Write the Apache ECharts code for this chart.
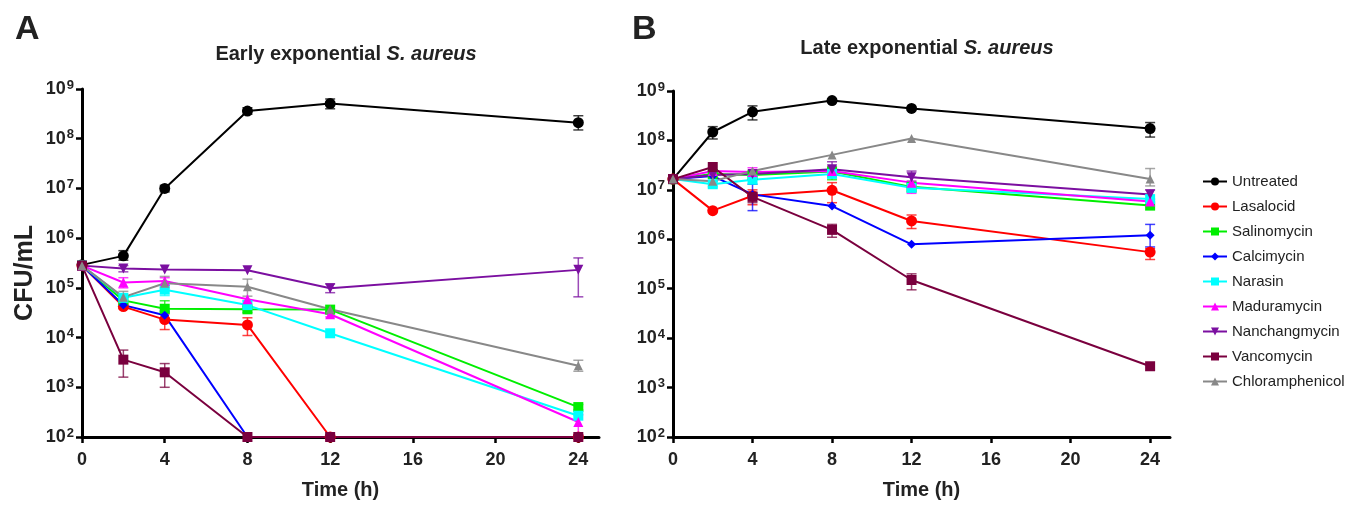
<!DOCTYPE html>
<html lang="en">
<head>
    <meta charset="UTF-8">
    <title>Time-kill S. aureus</title>
    <style>
        html, body { margin: 0; padding: 0; background: #fff; }
        #chart { width: 1349px; height: 505px; }
    </style>
</head>
<body>
    <div id="chart"></div>
    <script src="https://cdn.jsdelivr.net/npm/echarts@6/dist/echarts.min.js"></script>
    <script>
        // sampling times (h)
        let hours = [0, 2, 4, 8, 12, 24];
        let xTicks = [0, 4, 8, 12, 16, 20, 24];
        let treatments = ['Untreated', 'Lasalocid', 'Salinomycin', 'Calcimycin', 'Narasin',
            'Maduramycin', 'Nanchangmycin', 'Vancomycin', 'Chloramphenicol'];

        // CFU/mL, one row per treatment (same order as treatments)
        let earlyValues = [
            [2.9e5, 4.4e5, 1.0e7, 3.6e8, 5.1e8, 2.1e8],
            [2.8e5, 4.2e4, 2.3e4, 1.8e4, 100, 100],
            [2.8e5, 5.6e4, 3.8e4, 3.7e4, 3.65e4, 400],
            [2.8e5, 4.5e4, 2.8e4, 100, 100, 100],
            [2.8e5, 6.3e4, 9.2e4, 4.5e4, 1.22e4, 268],
            [2.8e5, 1.28e5, 1.38e5, 5.9e4, 2.95e4, 200],
            [2.8e5, 2.45e5, 2.35e5, 2.25e5, 9.8e4, 2.3e5],
            [2.8e5, 3.6e3, 2.0e3, 100, 100, 100],
            [2.8e5, 6.5e4, 1.24e5, 1.05e5, 3.7e4, 2.7e3]
        ];
        let lateValues = [
            [1.65e7, 1.48e8, 3.8e8, 6.4e8, 4.45e8, 1.74e8],
            [1.65e7, 3.8e6, 7.6e6, 9.8e6, 2.35e6, 5.5e5],
            [1.65e7, 2.1e7, 2.0e7, 2.35e7, 1.15e7, 4.8e6],
            [1.65e7, 1.9e7, 8.1e6, 4.7e6, 7.9e5, 1.2e6],
            [1.65e7, 1.3e7, 1.6e7, 2.1e7, 1.1e7, 6.5e6],
            [1.65e7, 2.4e7, 2.3e7, 2.4e7, 1.4e7, 5.8e6],
            [1.65e7, 2.0e7, 2.1e7, 2.6e7, 1.8e7, 8.1e6],
            [1.65e7, 2.9e7, 7.2e6, 1.55e6, 1.5e5, 2.7e3],
            [1.65e7, 1.5e7, 2.4e7, 5.1e7, 1.09e8, 1.66e7]
        ];

        // error bars [hour, low, high]
        let earlyErrors = [
            [[2, 3.6e5, 5.6e5], [4, 8.5e6, 1.15e7], [8, 3.1e8, 4.2e8], [12, 4.0e8, 6.3e8], [24, 1.5e8, 2.9e8]],
            [[2, 3.8e4, 4.8e4], [4, 1.45e4, 3.0e4], [8, 1.1e4, 2.5e4]],
            [[4, 3.2e4, 5.5e4], [8, 3.2e4, 4.2e4], [24, 350, 450]],
            [[4, 2.2e4, 3.4e4]],
            [[4, 7.0e4, 1.15e5], [8, 3.6e4, 5.5e4]],
            [[2, 1.0e5, 1.6e5], [4, 1.1e5, 1.6e5], [12, 2.6e4, 3.3e4], [24, 110, 280]],
            [[2, 2.1e5, 2.8e5], [12, 8.0e4, 1.2e5], [24, 6.6e4, 4.0e5]],
            [[2, 1.6e3, 5.6e3], [4, 1.0e3, 3.0e3]],
            [[2, 5.0e4, 8.5e4], [4, 1.0e5, 1.7e5], [8, 6.8e4, 1.5e5], [24, 2.1e3, 3.5e3]]
        ];
        let lateErrors = [
            [[2, 1.07e8, 1.9e8], [4, 2.6e8, 5.0e8], [24, 1.17e8, 2.3e8]],
            [[4, 5.0e6, 1.0e7], [8, 5.5e6, 1.4e7], [12, 1.65e6, 3.1e6], [24, 3.9e5, 6.5e5]],
            [[8, 1.6e7, 3.0e7], [12, 9.0e6, 1.4e7]],
            [[2, 1.5e7, 2.3e7], [4, 3.8e6, 1.3e7], [24, 7.0e5, 2.0e6]],
            [[2, 1.15e7, 1.5e7]],
            [[4, 1.9e7, 2.8e7], [8, 1.8e7, 3.0e7], [12, 8.5e6, 1.8e7]],
            [[8, 2.1e7, 3.7e7], [12, 1.5e7, 2.4e7], [24, 6.5e6, 1.0e7]],
            [[4, 5.5e6, 9.0e6], [8, 1.1e6, 2.0e6], [12, 9.5e4, 2.0e5]],
            [[24, 1.2e7, 2.7e7]]
        ];

        let colors = ['#000000', '#ff0000', '#00ee00', '#0000ff', '#00ffff',
            '#ff00ff', '#7b0fa0', '#7a003e', '#888888'];
        let symbols = ['circle', 'circle', 'rect', 'diamond', 'rect',
            'triangle', 'triangle', 'rect', 'triangle'];
        let rotations = [0, 0, 0, 0, 0, 0, 180, 0, 0];
        let sizes = [11, 11, 10, 9, 10, 10, 10, 10, 9];

        let font = '"Liberation Sans", Arial, Helvetica, sans-serif';
        let chart = echarts.init(document.getElementById('chart'));

        function xAxis(gi) {
            return {
                type: 'value', gridIndex: gi, min: 0, max: 25,
                name: 'Time (h)', nameLocation: 'middle', nameGap: 43,
                nameTextStyle: { fontFamily: font, fontSize: 20, fontWeight: 'bold', color: '#222' },
                axisLine: { onZero: false, lineStyle: { color: '#000', width: 3 } },
                axisTick: { length: 6, lineStyle: { color: '#000', width: 2.5 }, customValues: xTicks },
                axisLabel: { customValues: xTicks, margin: 14, fontFamily: font, fontSize: 18, fontWeight: 'bold', color: '#222' },
                splitLine: { show: false }
            };
        }
        function yAxis(gi, withName) {
            return {
                type: 'log', logBase: 10, gridIndex: gi, min: 100, max: 1e9,
                name: withName ? 'CFU/mL' : '', nameLocation: 'middle', nameGap: 44,
                nameTextStyle: { fontFamily: font, fontSize: 25, fontWeight: 'bold', color: '#222', padding: [0, 20, 0, 0] },
                axisLine: { show: true, lineStyle: { color: '#000', width: 3 } },
                axisTick: { show: true, length: 6, lineStyle: { color: '#000', width: 2.5 } },
                axisLabel: {
                    margin: 8,
                    formatter: v => '{b|10}{e|' + Math.round(Math.log10(v)) + '}',
                    rich: {
                        b: { fontFamily: font, fontSize: 18, fontWeight: 'bold', color: '#222' },
                        e: { fontFamily: font, fontSize: 13, fontWeight: 'bold', color: '#222', verticalAlign: 'top', padding: [0, 0, 8, 1] }
                    }
                },
                splitLine: { show: false }
            };
        }

        function errSeries(gi, rows, i) {
            let c = colors[i];
            return {
                type: 'custom', name: treatments[i] + ' err', xAxisIndex: gi, yAxisIndex: gi,
                data: rows, z: 1, silent: true,
                encode: { x: 0, y: [1, 2] },
                renderItem: function (params, api) {
                    let lo = api.coord([api.value(0), api.value(1)]);
                    let hi = api.coord([api.value(0), api.value(2)]);
                    let st = { stroke: c, lineWidth: 1.5, opacity: 0.75 };
                    return {
                        type: 'group', children: [
                            { type: 'line', shape: { x1: lo[0], y1: lo[1], x2: hi[0], y2: hi[1] }, style: st },
                            { type: 'line', shape: { x1: lo[0] - 5, y1: lo[1], x2: lo[0] + 5, y2: lo[1] }, style: st },
                            { type: 'line', shape: { x1: hi[0] - 5, y1: hi[1], x2: hi[0] + 5, y2: hi[1] }, style: st }
                        ]
                    };
                }
            };
        }

        let series = [];
        [earlyValues, lateValues].forEach((vals, gi) => {
            let errs = gi == 0 ? earlyErrors : lateErrors;
            treatments.forEach((name, i) => {
                series.push(errSeries(gi, errs[i], i));
            });
            treatments.forEach((name, i) => {
                series.push({
                    type: 'line', name: name, xAxisIndex: gi, yAxisIndex: gi, z: 2,
                    data: hours.map((h, j) => [h, vals[i][j]]),
                    symbol: symbols[i], symbolSize: sizes[i], symbolRotate: rotations[i],
                    showAllSymbol: true,
                    lineStyle: { color: colors[i], width: 2 },
                    itemStyle: { color: colors[i] }
                });
            });
        });

        let titleStyle = {
            rich: {
                n: { fontFamily: font, fontSize: 20, fontWeight: 'bold', color: '#222' },
                i: { fontFamily: font, fontSize: 20, fontWeight: 'bold', fontStyle: 'italic', color: '#222' }
            }
        };

        let option = {
            animation: false,
            title: [
                { text: 'A', left: 10, top: 8, textStyle: { fontFamily: font, fontSize: 34, fontWeight: 'bold', color: '#222' } },
                { text: 'B', left: 627, top: 8, textStyle: { fontFamily: font, fontSize: 34, fontWeight: 'bold', color: '#222' } },
                { text: '{n|Early exponential }{i|S. aureus}', left: 341, top: 39, textAlign: 'center', textStyle: titleStyle },
                { text: '{n|Late exponential }{i|S. aureus}', left: 922, top: 33, textAlign: 'center', textStyle: titleStyle }
            ],
            legend: {
                data: treatments, orient: 'vertical', left: 1197, top: 169,
                itemWidth: 24, itemHeight: 10, itemGap: 10,
                textStyle: { fontFamily: font, fontSize: 15, color: '#222' }
            },
            grid: [
                { left: 82, top: 89, width: 517, height: 354 },
                { left: 673, top: 91, width: 497, height: 353 }
            ],
            xAxis: [xAxis(0), xAxis(1)],
            yAxis: [yAxis(0, true), yAxis(1, false)],
            series: series
        };
        chart.setOption(option);
    </script>
</body>
</html>
